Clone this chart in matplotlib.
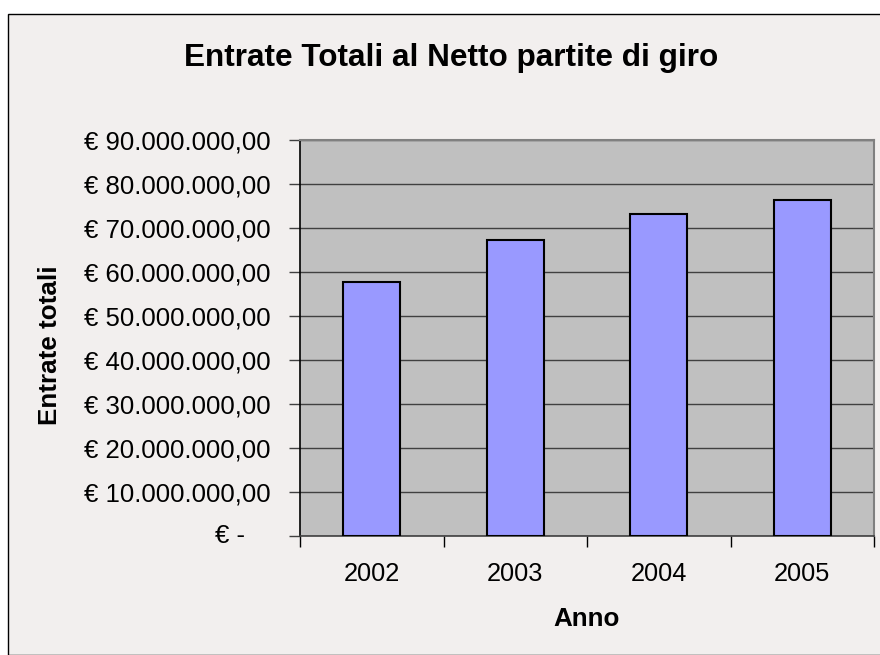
import numpy as np
import matplotlib.pyplot as plt
from matplotlib.patches import Rectangle

# Dati
anni = ["2002", "2003", "2004", "2005"]
entrate = [57.7e6, 67.3e6, 73.2e6, 76.4e6]
tick_valori = [0, 10e6, 20e6, 30e6, 40e6, 50e6, 60e6, 70e6, 80e6, 90e6]
tick_etichette = ["", "€ 10.000.000,00", "€ 20.000.000,00", "€ 30.000.000,00",
                  "€ 40.000.000,00", "€ 50.000.000,00", "€ 60.000.000,00",
                  "€ 70.000.000,00", "€ 80.000.000,00", "€ 90.000.000,00"]

plt.rcParams['font.family'] = ['Liberation Sans', 'DejaVu Sans']

W, H = 880, 655
fig = plt.figure(figsize=(W / 100, H / 100), dpi=100, facecolor="white")

# Cornice del grafico
fig.patches.append(Rectangle((8 / W, 0), 1.0, 1 - 14 / H, transform=fig.transFigure,
                             facecolor="#F2EFEE", edgecolor="black", linewidth=1.0,
                             zorder=-5))

ax = fig.add_axes([300 / W, 1 - 536 / H, 574 / W, 396 / H])
ax.set_facecolor("#C0C0C0")

x = np.arange(len(anni))
ax.bar(x, entrate, width=0.40, color="#9999FF", edgecolor="black", linewidth=1.5,
       zorder=3)

ax.set_xlim(-0.5, len(anni) - 0.5)
ax.set_ylim(0, 90e6)

# Griglia orizzontale
ax.set_yticks(tick_valori, tick_etichette)
ax.yaxis.grid(True, color="#404040", linewidth=1.0, zorder=1)
ax.set_axisbelow(True)
ax.tick_params(axis="y", direction="out", length=8, width=1, pad=13.5,
               labelsize=18.5, color="#404040")
ax.text(-55 / 574, 0, "€ -", transform=ax.get_yaxis_transform(), ha="right",
        va="center", fontsize=18.5)

# Asse x: etichette al centro, tacche tra le categorie
ax.set_xticks(x, anni)
ax.set_xticks(np.arange(len(anni) + 1) - 0.5, minor=True)
ax.tick_params(axis="x", which="major", length=0, pad=19, labelsize=18.3)
ax.tick_params(axis="x", which="minor", direction="out", length=8, width=1,
               color="black")

for s in ["top", "right"]:
    ax.spines[s].set_color("#808080")
    ax.spines[s].set_linewidth(1.5)
ax.spines["left"].set_color("black")
ax.spines["left"].set_linewidth(1.2)
ax.spines["bottom"].set_color("#404040")
ax.spines["bottom"].set_linewidth(1.2)

# Titoli
fig.text(451 / W, 1 - 58 / H, "Entrate Totali al Netto partite di giro",
         ha="center", va="center", fontsize=22.7, fontweight="bold")
fig.text(587 / W, 1 - 619 / H, "Anno", ha="center", va="center", fontsize=18.7,
         fontweight="bold")
fig.text(50 / W, 1 - 345 / H, "Entrate totali", ha="center", va="center",
         rotation=90, fontsize=18.7, fontweight="bold")

fig.savefig("out.png", dpi=100, facecolor=fig.get_facecolor())
